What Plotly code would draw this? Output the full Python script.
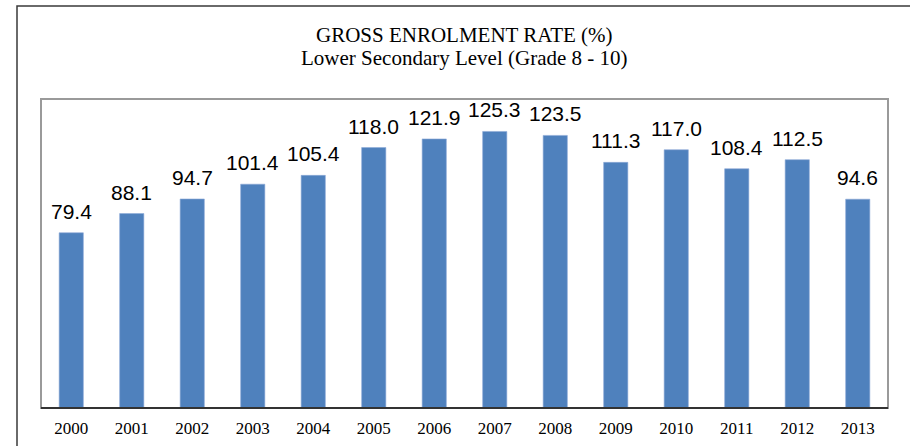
import plotly.graph_objects as go

years = [2000, 2001, 2002, 2003, 2004, 2005, 2006,
         2007, 2008, 2009, 2010, 2011, 2012, 2013]
ger = [79.4, 88.1, 94.7, 101.4, 105.4, 118.0, 121.9,
       125.3, 123.5, 111.3, 117.0, 108.4, 112.5, 94.6]

title_lines = ["GROSS ENROLMENT RATE (%)", "Lower Secondary Level (Grade 8 - 10)"]

W, H = 910, 446
L, R, T, B = 41, 22, 99, 38
pw, ph = W - L - R, H - T - B

fig = go.Figure()
fig.add_trace(go.Bar(
    x=years, y=ger, width=0.4,
    marker=dict(color="#4F81BD", line=dict(color="#8DAAD6", width=0.6)),
    hoverinfo="x+y",
))

for yr, v in zip(years, ger):
    fig.add_annotation(
        x=yr, y=v, xref="x", yref="y",
        text=f"{v:.1f}", showarrow=False,
        yanchor="bottom", yshift=8,
        font=dict(family="Liberation Sans, Arial", size=21, color="#000000"),
    )

for line_text, ypix in zip(title_lines, [35, 58]):
    fig.add_annotation(
        x=0.5, xref="paper", y=(H - B - ypix) / ph, yref="paper",
        text=line_text, showarrow=False,
        yanchor="middle", xanchor="center",
        font=dict(family="Liberation Serif, Times New Roman", size=21, color="#000000"),
    )

# outer frame
fig.add_shape(type="rect", xref="paper", yref="paper",
              x0=(17 - L) / pw, x1=1.2, y0=-0.3, y1=(H - B - 6) / ph,
              line=dict(color="#3a3a3a", width=1.5), layer="below")
# plot-area frame
fig.add_shape(type="rect", xref="paper", yref="paper",
              x0=0, x1=1, y0=0, y1=1,
              line=dict(color="#9a9a9a", width=2), layer="below")
# category axis line
fig.add_shape(type="line", xref="paper", yref="paper",
              x0=0, x1=1, y0=0, y1=0,
              line=dict(color="#333333", width=2), layer="above")

fig.update_layout(
    width=W, height=H, autosize=False,
    margin=dict(l=L, r=R, t=T, b=B, pad=0),
    paper_bgcolor="white", plot_bgcolor="white",
    showlegend=False,
    xaxis=dict(range=[years[0] - 0.5, years[-1] + 0.5], tickmode="array",
               tickvals=years, ticktext=[str(y) for y in years],
               showgrid=False, zeroline=False, showline=False, ticks="",
               ticklabelstandoff=8, automargin=False,
               tickfont=dict(family="Liberation Serif, Times New Roman",
                             size=17, color="#000000")),
    yaxis=dict(range=[0, 140], visible=False, showgrid=False, zeroline=False,
               automargin=False),
)

fig.write_html("out.html", config={"displayModeBar": False},
               post_script="document.body.style.margin='0';document.body.style.overflow='hidden';")
